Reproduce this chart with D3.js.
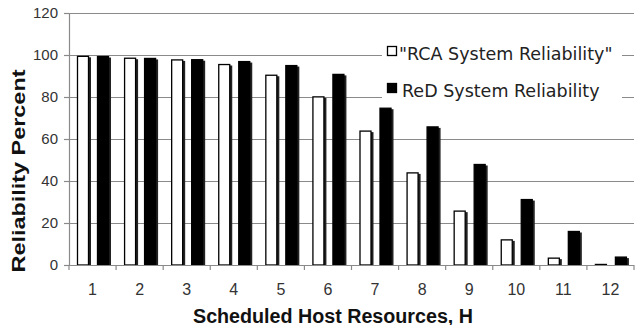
<!DOCTYPE html>
<html>
<head>
<meta charset="utf-8">
<script src="https://cdn.jsdelivr.net/npm/d3@7"></script>
<style>
  body { margin: 0; background: #fff; }
</style>
</head>
<body>
<div id="chart"></div>
<script>
const hosts = ["1", "2", "3", "4", "5", "6", "7", "8", "9", "10", "11", "12"];
const rcaValues = [99.6, 98.7, 97.9, 95.7, 90.6, 80.3, 64, 44.1, 25.9, 12.2, 3.5, 0.5];
const redValues = [99.5, 98.6, 98, 97.1, 95.2, 91, 74.9, 66, 48.1, 31.4, 16.2, 4];
const seriesNames = ["\"RCA System Reliability\"", "ReD System Reliability"];
const yTicks = [0, 20, 40, 60, 80, 100, 120];

const width = 635, height = 325;
const margin = { top: 13, right: 1, bottom: 60, left: 69 };

const svg = d3.select("#chart").append("svg")
    .attr("width", width)
    .attr("height", height);

const x = d3.scaleBand()
    .domain(hosts)
    .range([margin.left, width - margin.right]);

const y = d3.scaleLinear()
    .domain([0, 120])
    .range([height - margin.bottom, margin.top]);

// gridlines
svg.append("g")
  .selectAll("line")
  .data(yTicks.filter(d => d > 0))
  .join("line")
    .attr("x1", margin.left)
    .attr("x2", width - margin.right)
    .attr("y1", d => y(d) + 0.5)
    .attr("y2", d => y(d) + 0.5)
    .attr("stroke", "#8a8a8a")
    .attr("stroke-width", 1.2);

// legend box hides gridlines behind it
svg.append("rect")
    .attr("x", 382)
    .attr("y", 38)
    .attr("width", 240)
    .attr("height", 66)
    .attr("fill", "#fff");

// bars
const data = hosts.map((h, i) => ({ h, rca: rcaValues[i], red: redValues[i] }));
const barW = 12;
const offs = [8, 28];

const groups = svg.append("g")
  .selectAll("g")
  .data(data)
  .join("g")
    .attr("transform", d => `translate(${x(d.h)},0)`);

[["rca", "#fff"], ["red", "#000"]].forEach(([key, fill], k) => {
  groups.append("rect")
      .attr("x", offs[k] + 2)
      .attr("y", d => y(d[key]) + 1.5)
      .attr("width", barW)
      .attr("height", d => y(0) - y(d[key]) - 1.5)
      .attr("fill", "#222");
  groups.append("rect")
      .attr("x", offs[k] + 0.5)
      .attr("y", d => y(d[key]) + 0.5)
      .attr("width", barW - 1)
      .attr("height", d => Math.max(0, y(0) - y(d[key]) - 0.5))
      .attr("fill", fill)
      .attr("stroke", "#000")
      .attr("stroke-width", 1.3);
});

// y axis
svg.append("g")
    .attr("transform", `translate(${margin.left},0)`)
    .call(d3.axisLeft(y).tickValues(yTicks).tickSize(5).tickPadding(6))
    .call(g => g.select(".domain").attr("stroke", "#8a8a8a").attr("stroke-width", 1.2))
    .call(g => g.selectAll(".tick line").attr("stroke", "#8a8a8a").attr("stroke-width", 1.2))
    .call(g => g.selectAll("text")
        .attr("font-family", "Liberation Sans, Arial, sans-serif")
        .attr("font-size", 15)
        .attr("fill", "#333"));

// x axis
const xAxis = svg.append("g")
    .attr("transform", `translate(0,${y(0)})`);
xAxis.append("line")
    .attr("x1", margin.left).attr("x2", width - margin.right)
    .attr("y1", 0.5).attr("y2", 0.5)
    .attr("stroke", "#8a8a8a").attr("stroke-width", 1.2);
xAxis.selectAll("line.tk")
  .data(hosts.concat(["end"]))
  .join("line")
    .attr("class", "tk")
    .attr("x1", (d, i) => margin.left + i * x.bandwidth())
    .attr("x2", (d, i) => margin.left + i * x.bandwidth())
    .attr("y1", 0).attr("y2", 5)
    .attr("stroke", "#8a8a8a").attr("stroke-width", 1.2);
xAxis.selectAll("text")
  .data(hosts)
  .join("text")
    .attr("x", d => x(d) + x.bandwidth() / 2)
    .attr("y", 30)
    .attr("text-anchor", "middle")
    .attr("font-family", "Liberation Sans, Arial, sans-serif")
    .attr("font-size", 16)
    .attr("fill", "#333")
    .text(d => d);

// axis titles
svg.append("text")
    .attr("x", 333)
    .attr("y", 322.5)
    .attr("text-anchor", "middle")
    .attr("font-family", "Liberation Sans, Arial, sans-serif")
    .attr("font-weight", "bold")
    .attr("font-size", 20)
    .attr("textLength", 280)
    .attr("lengthAdjust", "spacingAndGlyphs")
    .attr("fill", "#111")
    .text("Scheduled Host Resources, H");

svg.append("text")
    .attr("transform", "translate(25,171) rotate(-90)")
    .attr("text-anchor", "middle")
    .attr("font-family", "Liberation Sans, Arial, sans-serif")
    .attr("font-weight", "bold")
    .attr("font-size", 18)
    .attr("textLength", 203)
    .attr("lengthAdjust", "spacingAndGlyphs")
    .attr("fill", "#111")
    .text("Reliability Percent");

// legend
const legend = svg.append("g");
seriesNames.forEach((name, i) => {
  const ly = 51 + i * 37;
  legend.append("rect")
      .attr("x", 387.5)
      .attr("y", ly - 4.5)
      .attr("width", 9)
      .attr("height", 9)
      .attr("fill", i === 0 ? "#fff" : "#000")
      .attr("stroke", "#000")
      .attr("stroke-width", 1.3);
  legend.append("text")
      .attr("x", i === 0 ? 399 : 402)
      .attr("y", ly + 9)
      .attr("font-family", "DejaVu Sans, Verdana, sans-serif")
      .attr("font-size", 17.5)
      .attr("fill", "#222")
      .text(name);
});
</script>
</body>
</html>
